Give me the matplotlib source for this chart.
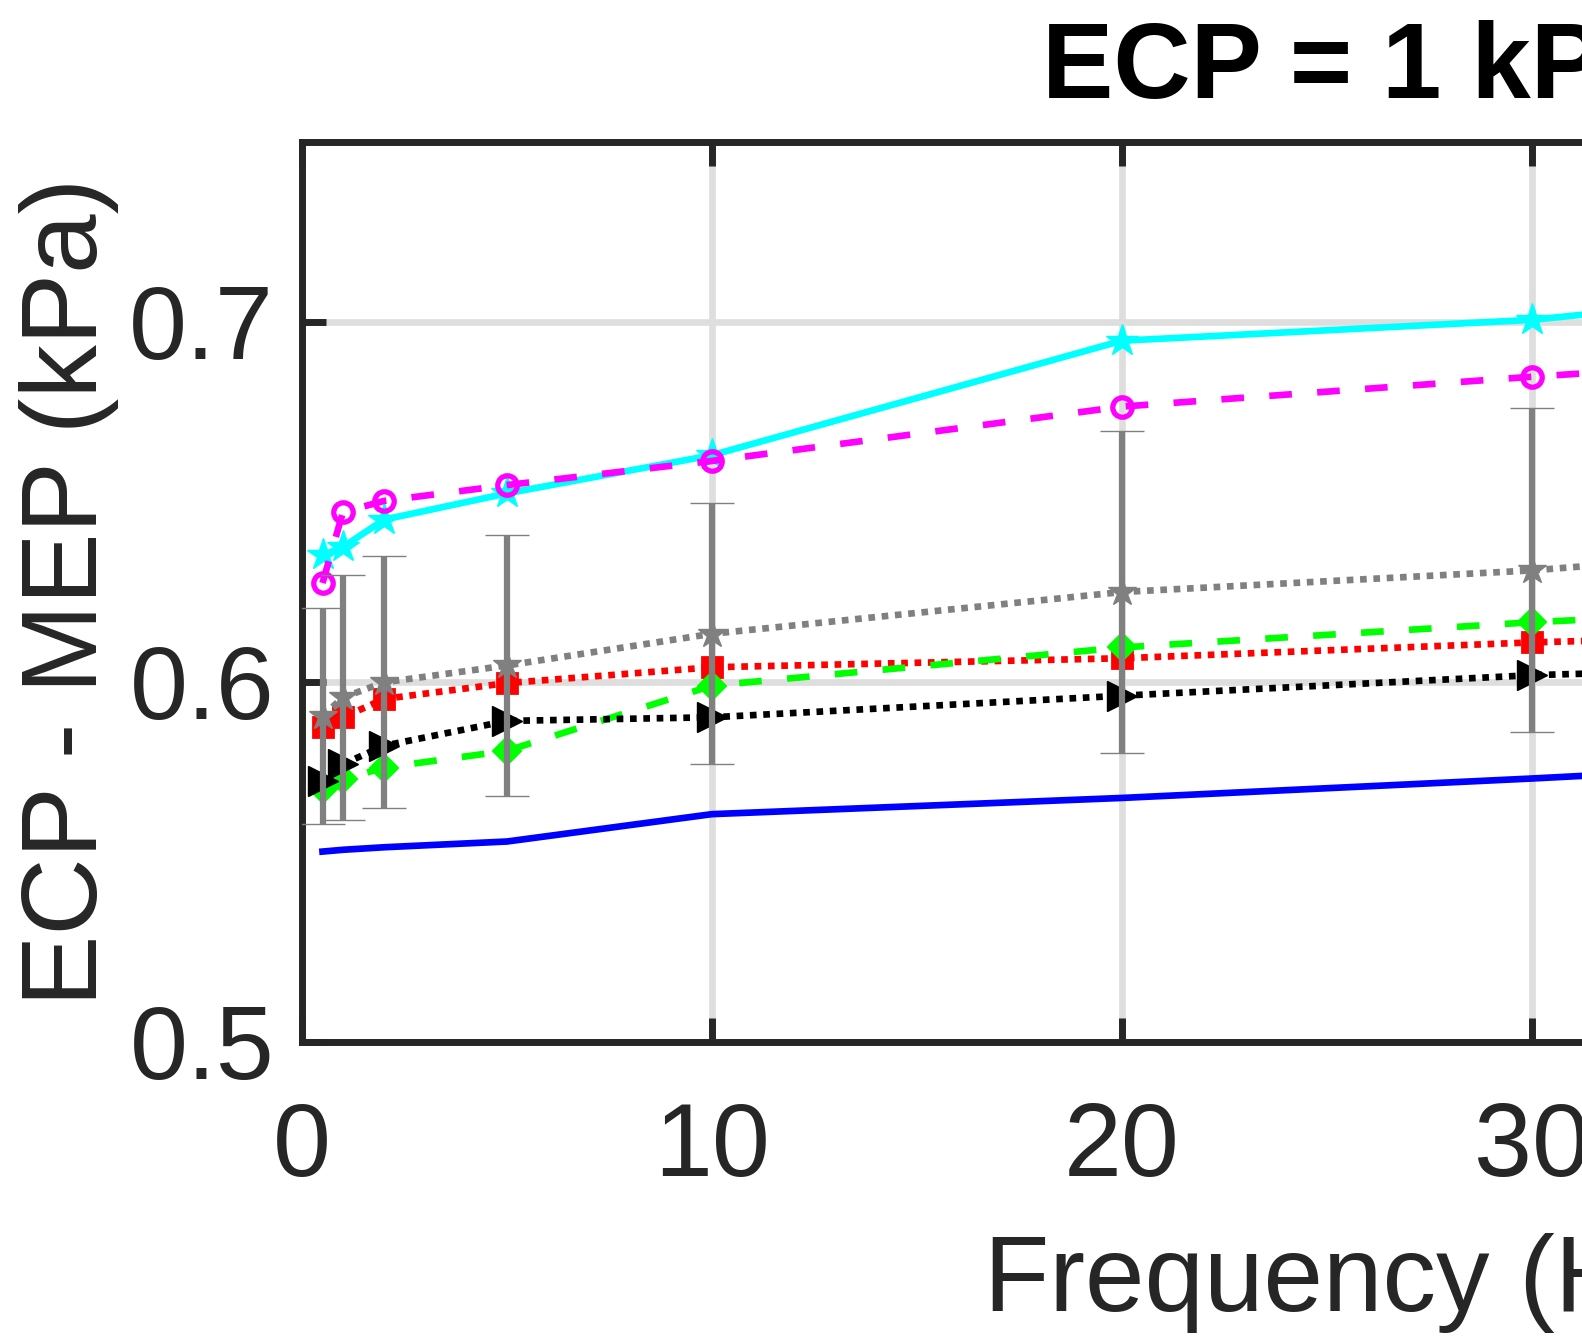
import matplotlib
matplotlib.use('Agg')
import matplotlib.pyplot as plt

# ---- data ----
freq = [0.5, 1, 2, 5, 10, 20, 30, 40]
blue_vals = [0.5528, 0.5533, 0.5540, 0.5556, 0.5632, 0.5677, 0.5731, 0.5790]
cyan_vals = [0.6351, 0.6374, 0.6450, 0.6523, 0.6629, 0.6947, 0.7005, 0.7120]
magenta_vals = [0.6274, 0.6471, 0.6502, 0.6546, 0.6613, 0.6764, 0.6847, 0.6920]
gray_vals = [0.5905, 0.5956, 0.5998, 0.6045, 0.6133, 0.6249, 0.6309, 0.6400]
gray_err = [0.0300, 0.0340, 0.0350, 0.0362, 0.0363, 0.0446, 0.0450, 0.0460]
red_vals = [0.5873, 0.5901, 0.5952, 0.5996, 0.6040, 0.6065, 0.6109, 0.6140]
green_vals = [0.5701, 0.5729, 0.5761, 0.5808, 0.5989, 0.6095, 0.6165, 0.6220]
black_vals = [0.5724, 0.5771, 0.5822, 0.5891, 0.5901, 0.5961, 0.6018, 0.6050]

x_ticks = [0, 10, 20, 30, 40, 50]
y_ticks = [0.5, 0.6, 0.7]
title_text = 'ECP = 1 kPa'
x_label = 'Frequency (Hz)'
y_label = 'ECP - MEP (kPa)'

plt.rcParams['font.family'] = ['Liberation Sans', 'DejaVu Sans']

fig = plt.figure(figsize=(15.82, 13.36), dpi=100)
ax = fig.add_axes([0.1909, 0.2203, 1.2958, 0.6737])

LW = 4.8
dotted = (0, (1, 1))
dashed = (0, (3.4, 3.8))

ax.plot(freq, blue_vals, color='#0000ff', lw=LW, ls='-', zorder=3)
ax.plot(freq, cyan_vals, color='#00ffff', lw=LW, ls='-', marker='*', ms=24,
        mew=1, zorder=3)
ax.plot(freq, magenta_vals, color='#ff00ff', lw=LW, ls=dashed, marker='o', ms=14,
        mew=3.8, mfc='none', dash_capstyle='butt', zorder=3)
ax.plot(freq, red_vals, color='#ff0000', lw=LW, ls=dotted, marker='s', ms=14,
        mew=2, dash_capstyle='butt', zorder=3)
ax.plot(freq, green_vals, color='#00ff00', lw=LW, ls=dashed, marker='D', ms=14,
        mew=1.5, dash_capstyle='butt', zorder=3)
ax.plot(freq, black_vals, color='#000000', lw=LW, ls=dotted, marker='>', ms=21,
        mew=1, dash_capstyle='butt', zorder=3)
eb = ax.errorbar(freq, gray_vals, yerr=gray_err, color='#808080', lw=LW, ls=dotted,
                 marker='*', ms=21, mew=1, elinewidth=4.5, capsize=15.5, capthick=5.5,
                 dash_capstyle='butt', zorder=4)

ax.set_xlim(0, 50)
ax.set_ylim(0.5, 0.75)
ax.set_xticks(x_ticks)
ax.set_yticks(y_ticks)
ax.set_xticklabels([str(t) for t in x_ticks])
ax.set_yticklabels(['%.1f' % t for t in y_ticks])

ax.grid(True, color='#dedede', lw=4.8)
ax.set_axisbelow(True)

for s in ax.spines.values():
    s.set_linewidth(5)
    s.set_color('#262626')

ax.tick_params(direction='in', length=17, width=5, top=True, right=True,
               labelsize=75, colors='#262626')
ax.tick_params(axis='x', pad=43)
ax.tick_params(axis='y', pad=20)

ax.set_title(title_text, fontsize=77, fontweight='bold', color='black',
             x=0.5123, y=1.0482, pad=0)

ax.set_xlabel(x_label, fontsize=77, color='#262626')
ax.xaxis.set_label_coords(0.5123, -0.2992)
ax.xaxis.label.set_va('baseline')

ax.set_ylabel(y_label, fontsize=77, color='#262626')
ax.yaxis.set_label_coords(-0.1001, 0.5)
ax.yaxis.label.set_va('baseline')

fig.savefig('out.png', dpi=100)
